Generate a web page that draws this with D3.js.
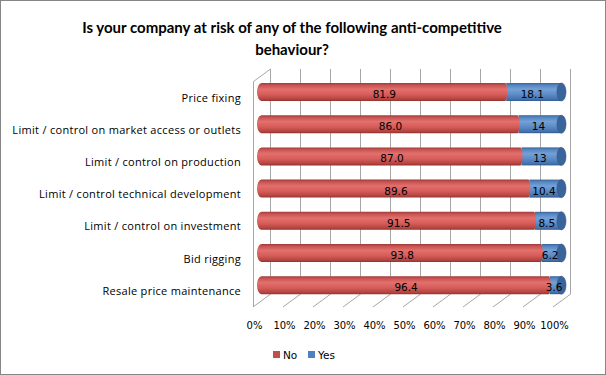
<!DOCTYPE html>
<html>
<head>
<meta charset="utf-8">
<script src="https://cdn.jsdelivr.net/npm/d3@7"></script>
<style>
  body { margin: 0; background: #fff; }
  svg { display: block; }
</style>
</head>
<body>
<div id="chart"></div>
<script>
// data
const categories = ["Price fixing", "Limit / control on market access or outlets", "Limit / control on production",
  "Limit / control technical development", "Limit / control on investment", "Bid rigging", "Resale price maintenance"]
const noValues = [81.9, 86.0, 87.0, 89.6, 91.5, 93.8, 96.4]
const yesValues = [18.1, 14, 13, 10.4, 8.5, 6.2, 3.6]
const noLabels = ["81.9", "86.0", "87.0", "89.6", "91.5", "93.8", "96.4"]
const yesLabels = ["18.1", "14", "13", "10.4", "8.5", "6.2", "3.6"]
const ticks = [0, 10, 20, 30, 40, 50, 60, 70, 80, 90, 100]

const width = 606, height = 375
const dx = 17, dy = -12.5 // depth of the 3d box
const floorY = 307, wallTop = 69

const svg = d3.select("#chart").append("svg")
  .attr("width", width)
  .attr("height", height)

// outer border
svg.append("rect")
  .attr("x", 0.5).attr("y", 0.5)
  .attr("width", width - 1).attr("height", height - 1)
  .attr("fill", "#fff").attr("stroke", "#868686")

// gradients for the cylinders
const defs = svg.append("defs")
function grad(id, stops) {
  const g = defs.append("linearGradient").attr("id", id)
    .attr("x1", 0).attr("y1", 0).attr("x2", 0).attr("y2", 1)
  stops.forEach(s => g.append("stop").attr("offset", s[0]).attr("stop-color", s[1]))
}
grad("gNo", [[0, "#9b3b39"], [0.12, "#c9524f"], [0.35, "#e2706d"], [0.65, "#d55c59"], [0.9, "#b4433f"], [1, "#8e3230"]])
grad("gYes", [[0, "#3a6397"], [0.12, "#5586c2"], [0.35, "#74a0d6"], [0.65, "#5b8bc7"], [0.9, "#4372ad"], [1, "#335a8b"]])

// scales: x at front plane, bars sit at half depth
const x = d3.scaleLinear().domain([0, 100]).range([253, 553])
const y = d3.scalePoint().domain(categories).range([92, 285.2])

const grid = svg.append("g").attr("stroke", "#a6a6a6").attr("stroke-width", 1).attr("fill", "none")

// back wall gridlines
grid.selectAll("line.v").data(ticks).join("line")
  .attr("x1", d => Math.round(x(d) + dx) + 0.5).attr("x2", d => Math.round(x(d) + dx) + 0.5)
  .attr("y1", wallTop).attr("y2", floorY + dy)
// floor diagonals
grid.selectAll("line.f").data(ticks).join("line")
  .attr("x1", d => x(d)).attr("y1", floorY)
  .attr("x2", d => x(d) + dx).attr("y2", floorY + dy)
// side wall
grid.append("path")
  .attr("d", `M${x(0) + 0.5},${floorY} L${x(0) + 0.5},${wallTop - dy} L${x(0) + dx + 0.5},${wallTop}`)

// cylinders
const bh = 18, rx = 4.5
const rows = svg.append("g")
categories.forEach((c, i) => {
  const yc = y(c)
  const x0 = x(0) + dx / 2, x1 = x(noValues[i]) + dx / 2, x2 = x(noValues[i] + yesValues[i]) + dx / 2
  const top = yc - bh / 2
  // yes segment, drawn first so the red end overlaps it
  rows.append("rect")
    .attr("x", x1 - 1).attr("y", top).attr("width", x2 - x1 + 1).attr("height", bh)
    .attr("fill", "url(#gYes)")
  rows.append("ellipse")
    .attr("cx", x2).attr("cy", yc).attr("rx", rx).attr("ry", bh / 2)
    .attr("fill", "#3b659a").attr("stroke", "#2f5486").attr("stroke-width", 0.6)
  // no segment with rounded ends
  rows.append("path")
    .attr("d", `M${x1 - 2},${top} L${x0},${top} A${rx},${bh / 2} 0 0 0 ${x0},${top + bh} L${x1 - 2},${top + bh} A2,${bh / 2} 0 0 0 ${x1 - 2},${top} Z`)
    .attr("fill", "url(#gNo)")

  rows.append("text")
    .attr("x", (x0 + x1) / 2).attr("y", yc + 6)
    .attr("text-anchor", "middle")
    .attr("font-family", "DejaVu Sans").attr("font-size", 10.5).attr("fill", "#000")
    .text(noLabels[i])
  rows.append("text")
    .attr("x", (x1 + x2) / 2 - 2).attr("y", yc + 6)
    .attr("text-anchor", "middle")
    .attr("font-family", "DejaVu Sans").attr("font-size", 10.5).attr("fill", "#000")
    .text(yesLabels[i])
})

// category labels
svg.append("g").selectAll("text").data(categories).join("text")
  .attr("x", 241).attr("y", d => y(d) + 9.5)
  .attr("text-anchor", "end")
  .attr("font-family", "Open Sans").attr("font-size", 11).attr("letter-spacing", 0.3).attr("fill", "#000")
  .text(d => d)

// x tick labels
svg.append("g").selectAll("text").data(ticks).join("text")
  .attr("x", d => x(d) + 1.5).attr("y", 329)
  .attr("text-anchor", "middle")
  .attr("font-family", "DejaVu Sans").attr("font-size", 10).attr("fill", "#000")
  .text(d => d + "%")

// title
const title = svg.append("text")
  .attr("text-anchor", "middle")
  .attr("font-family", "Lato").attr("font-weight", "bold").attr("font-size", 15).attr("fill", "#000")
title.append("tspan").attr("x", 292).attr("y", 33).text("Is your company at risk of any of the following anti-competitive")
title.append("tspan").attr("x", 292).attr("y", 55).text("behaviour?")

// legend
const legend = svg.append("g").attr("font-family", "DejaVu Sans").attr("font-size", 10.5)
const items = [["No", "#c0504d", 273], ["Yes", "#4f81bd", 308]]
items.forEach(it => {
  legend.append("rect").attr("x", it[2]).attr("y", 351).attr("width", 7).attr("height", 7).attr("fill", it[1])
  legend.append("text").attr("x", it[2] + 10).attr("y", 359).text(it[0])
})
</script>
</body>
</html>
